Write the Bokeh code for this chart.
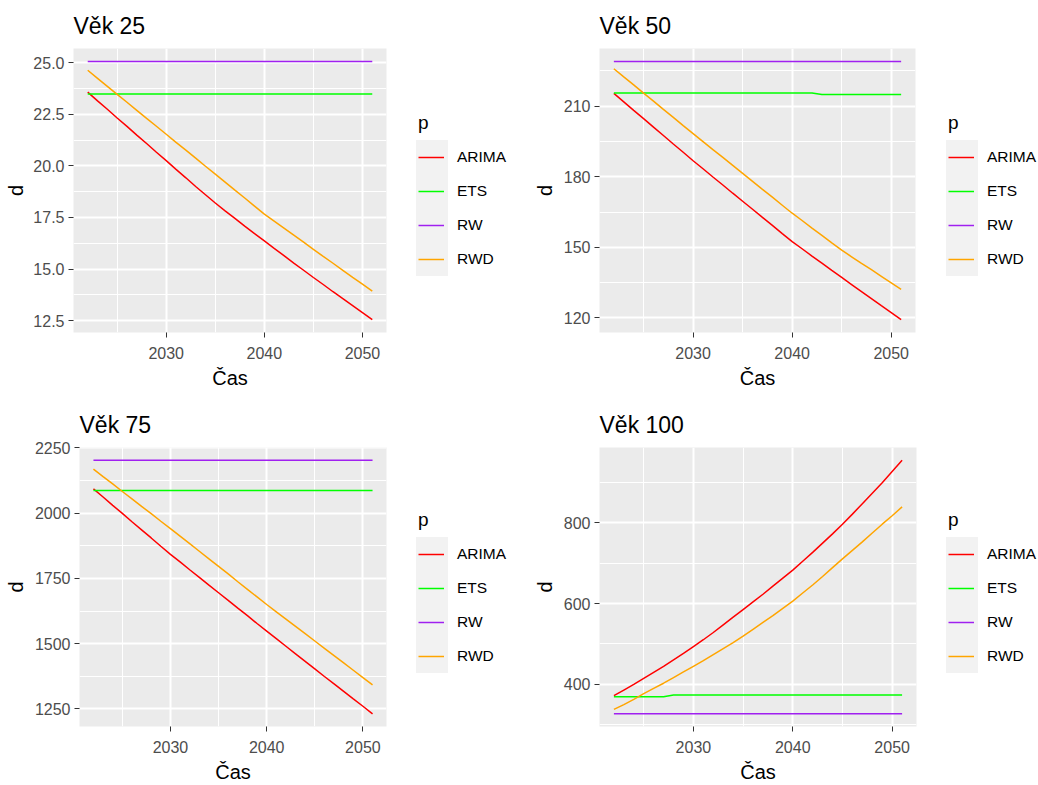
from bokeh.plotting import figure
from bokeh.models import Range1d, FixedTicker, NumeralTickFormatter, Legend, LegendItem
from bokeh.layouts import column, row
from bokeh.embed import file_html
from bokeh.resources import INLINE
from bokeh.core.properties import value

# ---------------- data ----------------
years = [2022, 2023, 2024, 2025, 2026, 2027, 2028, 2029, 2030, 2031,
         2032, 2033, 2034, 2035, 2036, 2037, 2038, 2039, 2040, 2041,
         2042, 2043, 2044, 2045, 2046, 2047, 2048, 2049, 2050, 2051]

series_names = ["ARIMA", "ETS", "RW", "RWD"]
series_colors = ["#FF0000", "#00FF00", "#A020F0", "#FFA500"]

panel_titles = ["Věk 25", "Věk 50", "Věk 75", "Věk 100"]

# Věk 25
arima_25 = [23.57, 23.15, 22.74, 22.32, 21.91, 21.49, 21.08, 20.66, 20.25, 19.83,
            19.42, 19.00, 18.60, 18.20, 17.82, 17.45, 17.08, 16.72, 16.36, 16.00,
            15.65, 15.29, 14.94, 14.59, 14.25, 13.90, 13.57, 13.23, 12.89, 12.55]
ets_25 = [23.48, 23.48, 23.48, 23.48, 23.48, 23.48, 23.48, 23.48, 23.48, 23.48,
          23.48, 23.48, 23.48, 23.48, 23.48, 23.48, 23.48, 23.48, 23.48, 23.48,
          23.48, 23.48, 23.48, 23.48, 23.48, 23.48, 23.48, 23.48, 23.48, 23.48]
rw_25 = [25.06, 25.06, 25.06, 25.06, 25.06, 25.06, 25.06, 25.06, 25.06, 25.06,
         25.06, 25.06, 25.06, 25.06, 25.06, 25.06, 25.06, 25.06, 25.06, 25.06,
         25.06, 25.06, 25.06, 25.06, 25.06, 25.06, 25.06, 25.06, 25.06, 25.06]
rwd_25 = [24.63, 24.24, 23.85, 23.46, 23.08, 22.69, 22.30, 21.92, 21.53, 21.14,
          20.76, 20.37, 19.98, 19.60, 19.21, 18.82, 18.44, 18.05, 17.66, 17.32,
          16.98, 16.64, 16.30, 15.95, 15.61, 15.28, 14.94, 14.60, 14.27, 13.93]

# Věk 50
arima_50 = [215.4, 211.8, 208.2, 204.7, 201.1, 197.5, 193.9, 190.4, 186.8, 183.4,
            179.9, 176.5, 173.0, 169.6, 166.2, 162.7, 159.3, 155.8, 152.4, 149.4,
            146.3, 143.3, 140.2, 137.2, 134.2, 131.2, 128.2, 125.2, 122.3, 119.3]
ets_50 = [215.6, 215.6, 215.6, 215.6, 215.6, 215.6, 215.6, 215.6, 215.6, 215.6,
          215.6, 215.6, 215.6, 215.6, 215.6, 215.6, 215.6, 215.6, 215.6, 215.6,
          215.6, 214.9, 214.9, 214.9, 214.9, 214.9, 214.9, 214.9, 214.9, 214.9]
rw_50 = [229.0, 229.0, 229.0, 229.0, 229.0, 229.0, 229.0, 229.0, 229.0, 229.0,
         229.0, 229.0, 229.0, 229.0, 229.0, 229.0, 229.0, 229.0, 229.0, 229.0,
         229.0, 229.0, 229.0, 229.0, 229.0, 229.0, 229.0, 229.0, 229.0, 229.0]
rwd_50 = [225.9, 222.4, 219.0, 215.5, 212.1, 208.6, 205.2, 201.7, 198.3, 194.9,
          191.5, 188.2, 184.8, 181.4, 178.0, 174.6, 171.3, 167.9, 164.5, 161.4,
          158.2, 155.1, 151.9, 148.8, 146.0, 143.2, 140.5, 137.7, 134.9, 132.1]

# Věk 75
arima_75 = [2093, 2062, 2030, 1999, 1967, 1936, 1905, 1873, 1842, 1813,
            1783, 1754, 1724, 1695, 1666, 1636, 1607, 1577, 1548, 1519,
            1490, 1461, 1432, 1403, 1374, 1346, 1317, 1288, 1260, 1231]
ets_75 = [2087, 2087, 2087, 2087, 2087, 2087, 2087, 2087, 2087, 2087,
          2087, 2087, 2087, 2087, 2087, 2087, 2087, 2087, 2087, 2087,
          2087, 2087, 2087, 2087, 2087, 2087, 2087, 2087, 2087, 2087]
rw_75 = [2203, 2203, 2203, 2203, 2203, 2203, 2203, 2203, 2203, 2203,
         2203, 2203, 2203, 2203, 2203, 2203, 2203, 2203, 2203, 2203,
         2203, 2203, 2203, 2203, 2203, 2203, 2203, 2203, 2203, 2203]
rwd_75 = [2169, 2140, 2112, 2083, 2055, 2026, 1998, 1969, 1941, 1912,
          1883, 1854, 1825, 1796, 1767, 1737, 1708, 1679, 1650, 1622,
          1594, 1566, 1538, 1510, 1482, 1454, 1426, 1398, 1370, 1342]

# Věk 100
arima_100 = [371, 385, 399, 414, 429, 444, 460, 476, 493, 510,
             528, 547, 566, 585, 604, 623, 643, 663, 683, 705,
             727, 750, 773, 797, 822, 848, 874, 900, 928, 956]
ets_100 = [368.5, 368.5, 368.5, 368.5, 368.5, 368.5, 372.5, 372.5, 372.5, 372.5,
           372.5, 372.5, 372.5, 372.5, 372.5, 372.5, 372.5, 372.5, 372.5, 372.5,
           372.5, 372.5, 372.5, 372.5, 372.5, 372.5, 372.5, 372.5, 372.5, 372.5]
rw_100 = [326, 326, 326, 326, 326, 326, 326, 326, 326, 326,
          326, 326, 326, 326, 326, 326, 326, 326, 326, 326,
          326, 326, 326, 326, 326, 326, 326, 326, 326, 326]
rwd_100 = [337, 349, 362, 376, 389, 402, 416, 430, 444, 458,
           473, 488, 503, 519, 536, 553, 570, 588, 606, 626,
           646, 667, 689, 711, 732, 753, 775, 797, 818, 840]

x_ticks = [2030, 2040, 2050]
x_minor_ticks = [2025, 2035, 2045]

y_ticks_25 = [12.5, 15.0, 17.5, 20.0, 22.5, 25.0]
y_minor_25 = [13.75, 16.25, 18.75, 21.25, 23.75]
y_ticks_50 = [120, 150, 180, 210]
y_minor_50 = [135, 165, 195, 225]
y_ticks_75 = [1250, 1500, 1750, 2000, 2250]
y_minor_75 = [1375, 1625, 1875, 2125]
y_ticks_100 = [400, 600, 800]
y_minor_100 = [300, 500, 700, 900]

FONT = "Liberation Sans"


def make_plot(title, series, y_ticks, y_minor, fmt, geom):
    w, h, bl, br, bt, bb, ylab_gap = geom
    allv = [v for s in series for v in s]
    lo, hi = min(allv), max(allv)
    pad = 0.05 * (hi - lo)
    xpad = 0.05 * (years[-1] - years[0])
    p = figure(width=w, height=h, output_backend="svg", toolbar_location=None,
               x_range=Range1d(years[0] - xpad, years[-1] + xpad),
               y_range=Range1d(lo - pad, hi + pad))
    p.min_border_left = bl
    p.min_border_right = br
    p.min_border_top = bt
    p.min_border_bottom = bb
    p.background_fill_color = "#EBEBEB"
    p.border_fill_color = "white"
    p.outline_line_color = None

    p.title.text = title
    p.title.text_font = FONT
    p.title.text_font_size = "23px"
    p.title.text_font_style = "normal"
    p.title.text_color = "black"
    p.title.align = "left"
    p.title.offset = 0
    p.title.standoff = 20

    p.xaxis.ticker = FixedTicker(ticks=x_ticks, minor_ticks=x_minor_ticks)
    p.yaxis.ticker = FixedTicker(ticks=y_ticks, minor_ticks=y_minor)
    p.yaxis.formatter = NumeralTickFormatter(format=fmt)
    p.xaxis.axis_label = "Čas"
    p.yaxis.axis_label = "d"
    for ax in (p.xaxis, p.yaxis):
        ax.axis_line_color = None
        ax.major_tick_line_color = "#333333"
        ax.major_tick_line_width = 1
        ax.major_tick_out = 5
        ax.major_tick_in = 0
        ax.minor_tick_line_color = None
        ax.major_label_text_font = FONT
        ax.major_label_text_font_size = "16px"
        ax.major_label_text_color = "#4D4D4D"
        ax.axis_label_text_font = FONT
        ax.axis_label_text_font_size = "20px"
        ax.axis_label_text_font_style = "normal"
        ax.axis_label_text_color = "black"
    p.xaxis.major_label_standoff = 9
    p.xaxis.axis_label_standoff = 5
    p.yaxis.major_label_standoff = 4
    p.yaxis.axis_label_standoff = ylab_gap

    for g in (p.xgrid, p.ygrid):
        g.grid_line_color = "white"
        g.grid_line_width = 2
        g.minor_grid_line_color = "white"
        g.minor_grid_line_width = 1
    p.xgrid.ticker = p.xaxis.ticker
    p.ygrid.ticker = p.yaxis.ticker

    for name, color, ys in zip(series_names, series_colors, series):
        p.line(years, ys, line_color=color, line_width=1.5)
    return p


def make_legend(series, w, h, key_left, key_bottom):
    # legend-only figure; its frame is aligned with the neighbouring plot frame
    lp = figure(width=w, height=h, output_backend="svg", toolbar_location=None,
                x_axis_type=None, y_axis_type=None, min_border=0)
    lp.outline_line_color = None
    lp.background_fill_color = "white"
    lp.border_fill_color = "white"
    renderers = [lp.line(years, ys, line_color=c, line_width=1.5, visible=False)
                 for c, ys in zip(series_colors, series)]
    key_bg = Legend(items=[LegendItem(label=value(""), renderers=[renderers[0]])],
                    location=(key_left, key_bottom),
                    glyph_width=0, glyph_height=136, label_width=32, label_height=0,
                    label_standoff=0, padding=0, margin=0, spacing=0,
                    background_fill_color="#F2F2F2", background_fill_alpha=1,
                    border_line_color=None)
    leg = Legend(items=[LegendItem(label=value(n), renderers=[r])
                        for n, r in zip(series_names, renderers)],
                 location=(key_left + 2, key_bottom), title="p",
                 glyph_width=26, glyph_height=34, label_height=34, label_width=0,
                 label_standoff=13, padding=0, margin=0, spacing=0,
                 background_fill_alpha=0, border_line_color=None,
                 label_text_font=FONT, label_text_font_size="15.5px",
                 label_text_color="black",
                 title_text_font=FONT, title_text_font_size="19px",
                 title_text_font_style="normal", title_text_color="black",
                 title_standoff=6)
    lp.add_layout(key_bg, "center")
    lp.add_layout(leg, "center")
    return lp


s25 = [arima_25, ets_25, rw_25, rwd_25]
s50 = [arima_50, ets_50, rw_50, rwd_50]
s75 = [arima_75, ets_75, rw_75, rwd_75]
s100 = [arima_100, ets_100, rw_100, rwd_100]

# geometry: (width, height, border_left, border_right, border_top, border_bottom, y-label gap)
p1 = make_plot(panel_titles[0], s25, y_ticks_25, y_minor_25, "0.0", (400, 391, 73, 14, 48, 59, 3))
l1 = make_legend(s25, 119, 391, 16, 56)
p2 = make_plot(panel_titles[1], s50, y_ticks_50, y_minor_50, "0", (410, 391, 80, 14, 48, 59, 5))
l2 = make_legend(s50, 109, 391, 17, 56)
p3 = make_plot(panel_titles[2], s75, y_ticks_75, y_minor_75, "0", (400, 394, 79, 14, 56, 59, 5))
l3 = make_legend(s75, 119, 394, 16, 53)
p4 = make_plot(panel_titles[3], s100, y_ticks_100, y_minor_100, "0", (410, 394, 80, 13, 56, 59, 5))
l4 = make_legend(s100, 109, 394, 17, 53)

layout = column(row(p1, l1, p2, l2), row(p3, l3, p4, l4))
open("out.html", "w").write(file_html(layout, INLINE))
